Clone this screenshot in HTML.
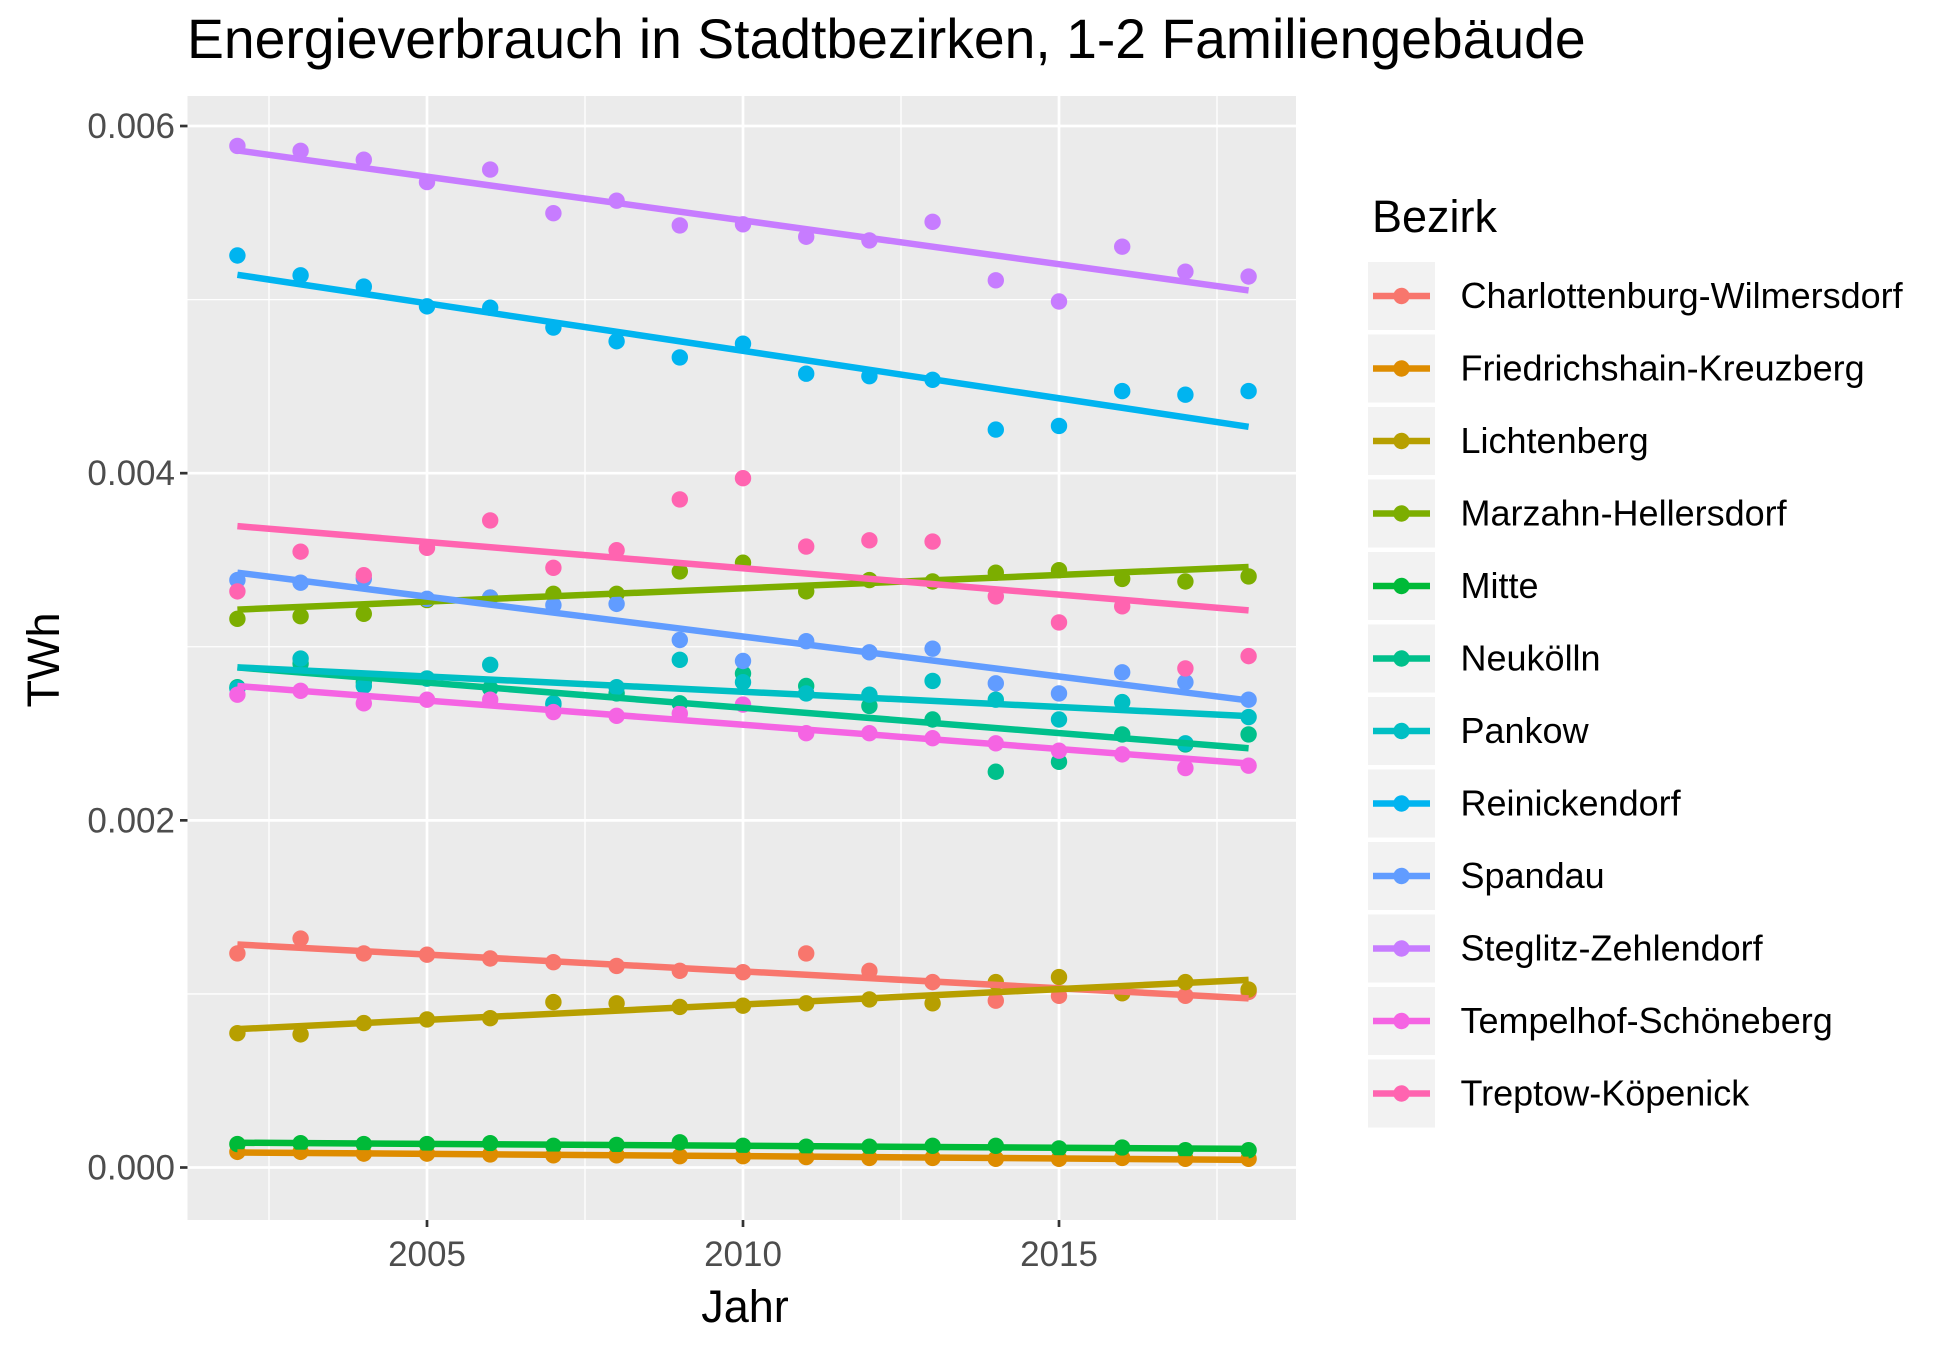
<!DOCTYPE html>
<html><head><meta charset="utf-8"><style>
html,body{margin:0;padding:0;background:#fff;}
svg{display:block;font-family:"Liberation Sans",sans-serif;}
</style></head><body>
<svg id="chart" width="1950" height="1349" viewBox="0 0 1950 1349">
<rect width="1950" height="1349" fill="#fff"/>
<text x="187" y="58" font-size="55.3" fill="#000">Energieverbrauch in Stadtbezirken, 1-2 Familiengebäude</text>
<rect x="187.5" y="96" width="1108.5" height="1124" fill="#EBEBEB"/>
<g id="grid"></g><g id="axes"></g><g id="points"></g><g id="lines"></g><g id="legend"></g>
<text x="745" y="1322" font-size="45" text-anchor="middle" fill="#000">Jahr</text>
<text transform="translate(59,660) rotate(-90)" font-size="45" text-anchor="middle" fill="#000">TWh</text>
</svg>
<script>
const years = [2002,2003,2004,2005,2006,2007,2008,2009,2010,2011,2012,2013,2014,2015,2016,2017,2018];
const districts = ["Charlottenburg-Wilmersdorf","Friedrichshain-Kreuzberg","Lichtenberg","Marzahn-Hellersdorf","Mitte","Neukölln","Pankow","Reinickendorf","Spandau","Steglitz-Zehlendorf","Tempelhof-Schöneberg","Treptow-Köpenick"];
const colors = ["#F8766D","#DE8C00","#B79F00","#7CAE00","#00BA38","#00C08B","#00BFC4","#00B4F0","#619CFF","#C77CFF","#F564E3","#FF64B0"];
// values in 1e-3 TWh
const charlottenburg = [1.233,1.319,1.233,1.226,1.204,1.183,1.161,1.133,1.125,1.233,1.133,1.068,0.961,0.989,1.004,0.989,1.011];
const friedrichshain = [0.09,0.09,0.08,0.08,0.075,0.07,0.07,0.065,0.065,0.06,0.055,0.055,0.05,0.05,0.055,0.05,0.05];
const lichtenberg = [0.774,0.767,0.832,0.853,0.860,0.953,0.946,0.925,0.932,0.946,0.968,0.946,1.068,1.097,1.004,1.068,1.025];
const marzahn = [3.161,3.176,3.190,3.269,3.283,3.305,3.305,3.434,3.484,3.319,3.384,3.376,3.427,3.441,3.391,3.376,3.405];
const mitte = [0.135,0.14,0.135,0.135,0.14,0.125,0.13,0.145,0.125,0.12,0.12,0.125,0.125,0.11,0.115,0.1,0.1];
const neukoelln = [2.767,2.903,2.796,2.817,2.760,2.667,2.731,2.674,2.846,2.774,2.659,2.581,2.280,2.337,2.495,2.437,2.495];
const pankow = [2.760,2.932,2.774,2.817,2.896,2.674,2.767,2.925,2.796,2.731,2.724,2.803,2.695,2.581,2.681,2.444,2.595];
const reinickendorf = [5.254,5.140,5.075,4.961,4.953,4.839,4.760,4.667,4.746,4.573,4.559,4.538,4.251,4.272,4.473,4.452,4.473];
const spandau = [3.384,3.369,3.391,3.276,3.283,3.240,3.247,3.039,2.918,3.032,2.968,2.989,2.789,2.731,2.853,2.796,2.695];
const steglitz = [5.885,5.857,5.806,5.677,5.749,5.498,5.570,5.427,5.434,5.362,5.341,5.448,5.111,4.989,5.305,5.161,5.133];
const tempelhof = [2.724,2.746,2.674,2.695,2.695,2.624,2.602,2.615,2.667,2.502,2.502,2.473,2.444,2.401,2.380,2.301,2.315];
const treptow = [3.319,3.548,3.412,3.570,3.728,3.455,3.556,3.849,3.971,3.577,3.613,3.606,3.290,3.140,3.233,2.875,2.946];
const series = [charlottenburg,friedrichshain,lichtenberg,marzahn,mitte,neukoelln,pankow,reinickendorf,spandau,steglitz,tempelhof,treptow];
const yTicks = [0,0.002,0.004,0.006];
const yTickLabels = ["0.000","0.002","0.004","0.006"];
const yMinor = [0.001,0.003,0.005];
const xTicks = [2005,2010,2015];
const xMinor = [2002.5,2007.5,2012.5,2017.5];

const NS="http://www.w3.org/2000/svg";
const X = y => 427 + (y-2005)*63.2;
const Y = v => 1167.5 - v*173580; // v in TWh
function mk(tag, attrs, parent){const e=document.createElementNS(NS,tag);for(const k in attrs)e.setAttribute(k,attrs[k]);parent.appendChild(e);return e;}
const grid=document.getElementById('grid'), axes=document.getElementById('axes'), pts=document.getElementById('points'), lns=document.getElementById('lines'), leg=document.getElementById('legend');
const L=187.5,R=1296,T=96,B=1220;
yMinor.forEach(v=>{const e=mk('line',{x1:L,x2:R,y1:Y(v),y2:Y(v),stroke:'#fff','stroke-width':1.3},grid);

});
xMinor.forEach(v=>{const e=mk('line',{x1:X(v),x2:X(v),y1:T,y2:B,stroke:'#fff','stroke-width':1.3},grid);

});
yTicks.forEach((v,i)=>{const e=mk('line',{x1:L,x2:R,y1:Y(v),y2:Y(v),stroke:'#fff','stroke-width':2.7},grid);


const t=mk('line',{x1:180,x2:L,y1:Y(v),y2:Y(v),stroke:'#333','stroke-width':2.7},axes);


const tx=mk('text',{x:175,y:Y(v)+12,'font-size':35,'text-anchor':'end',fill:'#4D4D4D'},axes);tx.textContent=yTickLabels[i];

});
xTicks.forEach(v=>{const e=mk('line',{x1:X(v),x2:X(v),y1:T,y2:B,stroke:'#fff','stroke-width':2.7},grid);


const t=mk('line',{x1:X(v),x2:X(v),y1:B,y2:B+7,stroke:'#333','stroke-width':2.7},axes);


const tx=mk('text',{x:X(v),y:1266,'font-size':35,'text-anchor':'middle',fill:'#4D4D4D'},axes);tx.textContent=String(v);

});
series.forEach((s,gi)=>{s.forEach((v,i)=>{const c=mk('circle',{cx:X(years[i]),cy:Y(v/1000),r:8.2,fill:colors[gi]},pts);

});});
series.forEach((s,gi)=>{const n=s.length;let mx=0,my=0;for(let i=0;i<n;i++){mx+=years[i];my+=s[i];}mx/=n;my/=n;let sxy=0,sxx=0;for(let i=0;i<n;i++){sxy+=(years[i]-mx)*(s[i]-my);sxx+=(years[i]-mx)**2;}
const b=sxy/sxx,a=my-b*mx;const x0=years[0],x1=years[n-1];
const l=mk('line',{x1:X(x0),y1:Y((a+b*x0)/1000),x2:X(x1),y2:Y((a+b*x1)/1000),stroke:colors[gi],'stroke-width':6.5},lns);

});
const lt=mk('text',{x:1372,y:232,'font-size':45,fill:'#000'},leg);lt.textContent='Bezirk';


districts.forEach((d,i)=>{const cy=296+i*72.5;const g=mk('g',{},leg);


mk('rect',{x:1368,y:cy-34,width:67,height:68,fill:'#F2F2F2'},g);
mk('line',{x1:1373,x2:1430,y1:cy,y2:cy,stroke:colors[i],'stroke-width':6.5},g);
mk('circle',{cx:1401.5,cy:cy,r:8.2,fill:colors[i]},g);
const t=mk('text',{x:1460.5,y:cy+12,'font-size':36,fill:'#000'},g);t.textContent=d;});
</script>
</body></html>
